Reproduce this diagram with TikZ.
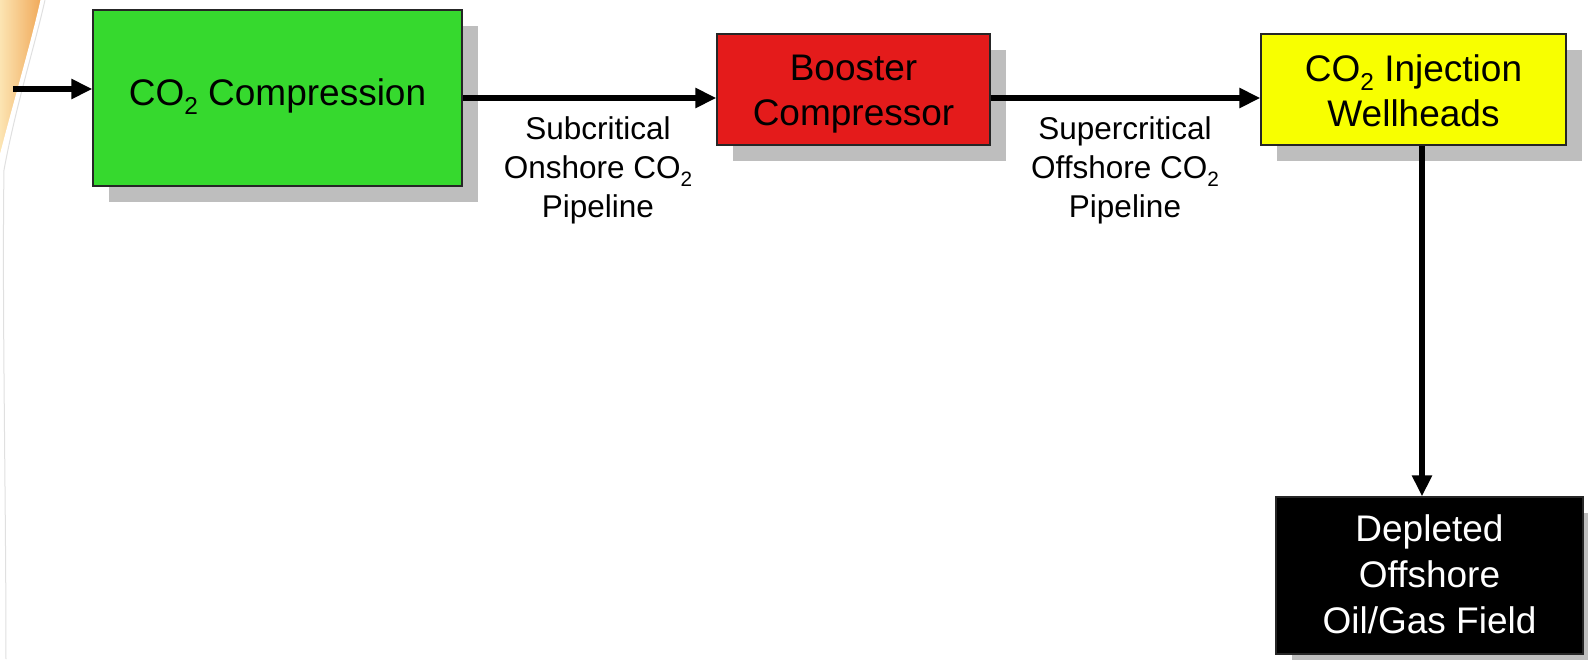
\documentclass[tikz,border=0pt]{standalone}
\usepackage{fontspec}
\setmainfont{Liberation Sans}
\usetikzlibrary{arrows.meta,shadows}
\definecolor{boxgreen}{RGB}{54,217,46}
\definecolor{boxred}{RGB}{228,27,27}
\definecolor{boxyellow}{RGB}{248,255,0}
\definecolor{shadowgray}{RGB}{190,190,190}
\definecolor{peachlight}{RGB}{252,228,178}
\definecolor{peachdark}{RGB}{240,168,88}
\newcommand\subtwo{\raisebox{-0.25em}{\scalebox{0.66}{2}}}
\tikzset{
  procbox/.style={draw=black!85, line width=1.2pt, inner sep=0pt,
    general shadow={shadow xshift=16pt, shadow yshift=-16pt, fill=shadowgray}},
  boxtext/.style={align=center, inner sep=0pt, font=\fontsize{37}{45}\selectfont},
  pipetext/.style={align=center, inner sep=0pt, font=\fontsize{31.5}{39}\selectfont},
  flow/.style={line width=5.5pt, -{Triangle[length=21pt,width=19pt]}},
}
\begin{document}
\begin{tikzpicture}[x=1pt,y=-1pt]
\useasboundingbox[fill=white] (0,0) rectangle (1588,659);
% background decoration at left edge
\shade[left color=peachlight, right color=peachdark]
  (0,0) -- (42,0) .. controls (32,45) and (14,105) .. (0,160) -- cycle;
\draw[white, line width=3pt] (42,0) .. controls (32,45) and (14,105) .. (0,160);
\draw[black!12, line width=1pt] (45,0) .. controls (35,45) and (16,105) .. (4,170) .. controls (2,300) and (6,500) .. (6,659);
% boxes
\node[procbox, fill=boxgreen, minimum width=369pt, minimum height=176pt] (green) at (277.5,98) {};
\node[procbox, fill=boxred, minimum width=273pt, minimum height=111pt] (red) at (853.5,89.5) {};
\node[procbox, fill=boxyellow, minimum width=305pt, minimum height=111pt] (yellow) at (1413.5,89.5) {};
\node[procbox, fill=black, minimum width=307pt, minimum height=157pt] (field) at (1429.5,575.5) {};
% box texts
\node[boxtext] (tgreen) at (277.5,96.7) {CO\subtwo{} Compression};
\node[boxtext] (tred) at (853.5,94.2) {Booster\\Compressor};
\node[boxtext] (tyellow) at (1413.5,90.3) {CO\subtwo{} Injection\\Wellheads};
\node[boxtext, text=white, font=\fontsize{37}{46}\selectfont] (tfield) at (1429.5,574.7) {Depleted\\Offshore\\Oil/Gas Field};
% pipeline labels
\node[pipetext] (sub) at (598,170) {Subcritical\\Onshore CO\subtwo\\Pipeline};
\node[pipetext] (sup) at (1125,170) {Supercritical\\Offshore CO\subtwo\\Pipeline};
% connectors
\coordinate (in) at (13,89);
\coordinate (vx) at (1422,0);
\draw[flow] (in) -- (in -| green.west);
\draw[flow] (green.east) -- (green.east -| red.west);
\draw[flow] (red.east |- green.east) -- (yellow.west |- green.east);
\draw[flow] (yellow.south -| vx) -- (field.north -| vx);
\end{tikzpicture}
\end{document}
